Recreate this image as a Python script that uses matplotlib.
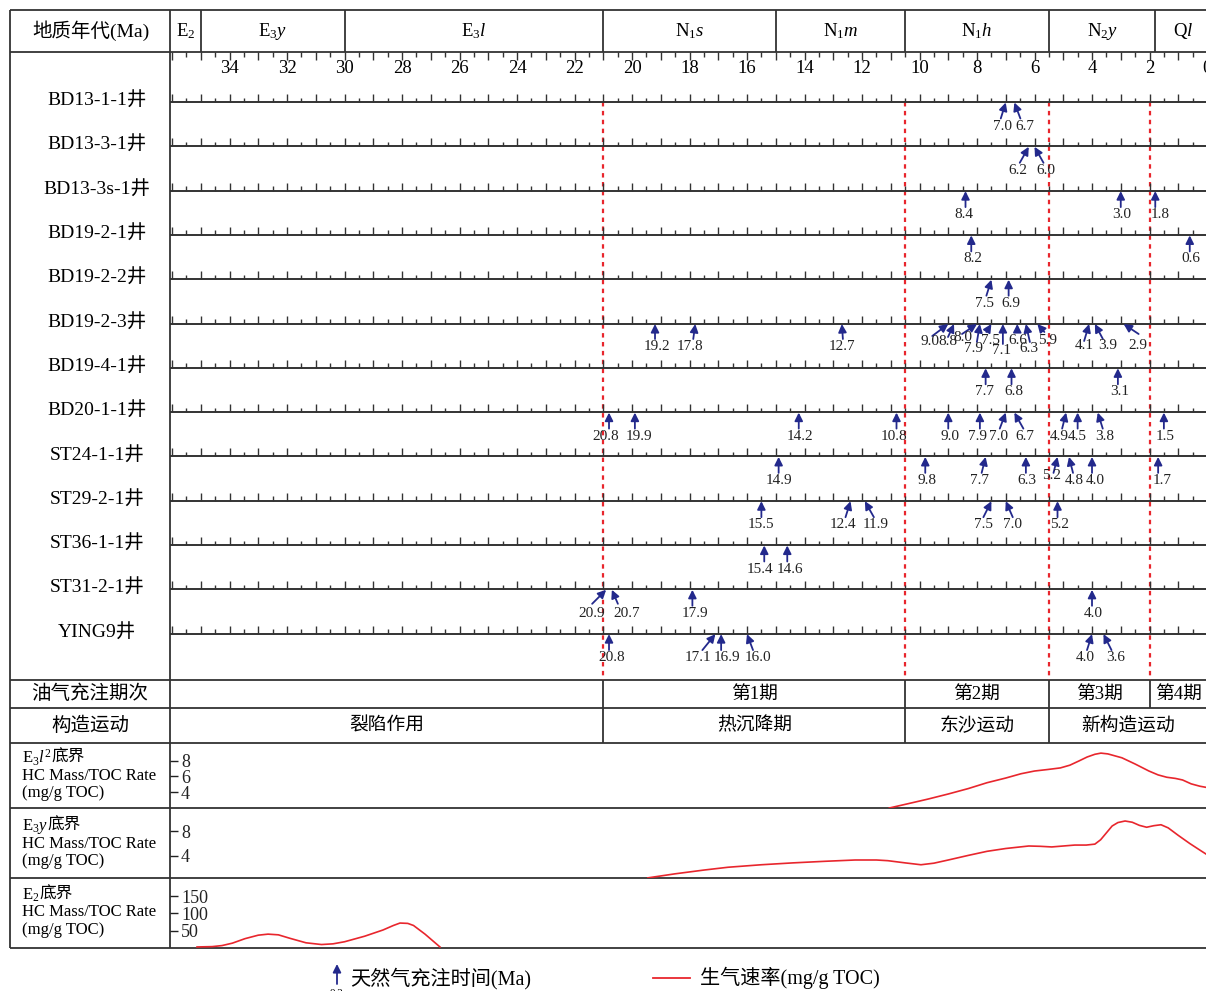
import numpy as np
import matplotlib.pyplot as plt

plt.rcParams['font.family'] = ['Liberation Serif', 'Noto Sans CJK SC']
plt.rcParams['mathtext.fontset'] = 'custom'
plt.rcParams['mathtext.rm'] = 'Liberation Serif'
plt.rcParams['mathtext.it'] = 'Liberation Serif:italic'

# 井名与天然气充注时间 (Ma)
wells = ['BD13-1-1井', 'BD13-3-1井', 'BD13-3s-1井', 'BD19-2-1井', 'BD19-2-2井',
         'BD19-2-3井', 'BD19-4-1井', 'BD20-1-1井', 'ST24-1-1井', 'ST29-2-1井',
         'ST36-1-1井', 'ST31-2-1井', 'YING9井']

charge_ages = [
    [7.0, 6.7],
    [6.2, 6.0],
    [8.4, 3.0, 1.8],
    [8.2, 0.6],
    [7.5, 6.9],
    [19.2, 17.8, 12.7, 9.0, 8.8, 8.0, 7.9, 7.5, 7.1, 6.6, 6.3, 5.9, 4.1, 3.9, 2.9],
    [7.7, 6.8, 3.1],
    [20.8, 19.9, 14.2, 10.8, 9.0, 7.9, 7.0, 6.7, 4.9, 4.5, 3.8, 1.5],
    [14.9, 9.8, 7.7, 6.3, 5.2, 4.8, 4.0, 1.7],
    [15.5, 12.4, 11.9, 7.5, 7.0, 5.2],
    [15.4, 14.6],
    [20.9, 20.7, 17.9, 4.0],
    [20.8, 17.1, 16.9, 16.0, 4.0, 3.6],
]

# 地层
stage_names = [r'$\mathrm{E}_{2}$', r'$\mathrm{E}_{3}\mathit{y}$', r'$\mathrm{E}_{3}\mathit{l}$',
               r'$\mathrm{N}_{1}\mathit{s}$', r'$\mathrm{N}_{1}\mathit{m}$', r'$\mathrm{N}_{1}\mathit{h}$',
               r'$\mathrm{N}_{2}\mathit{y}$', r'$\mathrm{Q}\mathit{l}$']
stage_bounds = [36.07, 35.0, 30.0, 21.0, 15.0, 10.5, 5.5, 1.8, -0.15]

# 充注期次 / 构造运动
period_names = ['第1期', '第2期', '第3期', '第4期']
period_bounds = [21.0, 10.5, 5.5, 2.0, 0.0]
tectonic_names = ['裂陷作用', '热沉降期', '东沙运动', '新构造运动']
tectonic_bounds = [36.07, 21.0, 10.5, 5.5, 0.0]

# 生气速率曲线
e3l2_age = [11.05, 10.4, 9.7, 9.0, 8.3, 7.65, 7.0, 6.47, 6.0, 5.53, 5.1, 4.77, 4.45,
            4.17, 3.9, 3.69, 3.45, 2.96, 2.5, 2.02, 1.7, 1.4, 1.1, 0.85, 0.55, 0.25, 0.03]
e3l2_rate = [1.95, 2.5, 3.1, 3.75, 4.45, 5.2, 5.8, 6.35, 6.7, 6.9, 7.1, 7.45, 8.0,
             8.5, 8.85, 9.0, 8.9, 8.4, 7.6, 6.7, 6.2, 5.9, 5.75, 5.55, 5.05, 4.75, 4.6]

e3y_age = [19.45, 18.5, 17.5, 16.66, 15.5, 14.4, 13.3, 12.24, 11.5, 11.1, 10.5, 9.95,
           9.5, 9.0, 8.3, 7.65, 7.0, 6.2, 5.8, 5.4, 5.0, 4.6, 4.2, 3.9, 3.7, 3.5, 3.3,
           3.1, 2.85, 2.6, 2.35, 2.1, 1.85, 1.6, 1.35, 1.0, 0.6, 0.2, 0.03]
e3y_rate = [0.5, 1.15, 1.75, 2.2, 2.6, 2.9, 3.15, 3.36, 3.36, 3.25, 2.9, 2.6,
            2.85, 3.36, 4.1, 4.75, 5.2, 5.6, 5.55, 5.45, 5.6, 5.75, 5.75, 5.9, 6.6, 7.7, 8.8,
            9.35, 9.6, 9.4, 8.9, 8.6, 8.85, 9.0, 8.5, 7.3, 6.0, 4.8, 4.3]

e2_age = [35.13, 34.6, 34.26, 33.9, 33.46, 33.0, 32.66, 32.3, 31.9, 31.34, 30.8, 30.4,
          30.0, 29.3, 28.66, 28.3, 28.07, 27.8, 27.6, 27.2, 26.68]
e2_rate = [3, 4, 7, 14, 27, 37, 40, 38, 28, 15, 10, 12,
           18, 34, 52, 65, 72, 71, 65, 40, 3]

# 箭头尾部与标注的水平偏移 (像素)
tail_dx = [
    [-5, 6],
    [-9, 9],
    [0, 0, 0],
    [0, 0],
    [-5, 0],
    [0, -2, 1, -16, -6, -15, -3, -5, 0, 0, 4, 7, -5, 8, 15],
    [0, 0, 0],
    [0, 0, 0, 0, 0, 0, -6, 9, -4, 0, 5, 0],
    [0, 0, -4, 0, -4, 4, 0, 0],
    [0, -5, 9, -8, 7, 0],
    [0, 0],
    [-14, 6, 0, 0],
    [0, -13, 0, 6, -5, 8],
]
label_dx = [
    [-3, 10],
    [-11, 11],
    [-2, 1, 5],
    [2, 1],
    [-7, 2],
    [2, -5, 0, -18, -6, -14, -6, -1, -1, 1, 3, 10, -5, 13, 14],
    [-1, 2, 2],
    [-3, 4, 1, -3, 2, -2, -7, 10, -7, 0, 7, 1],
    [0, 2, -6, 1, -6, 5, 3, 4],
    [0, -8, 11, -8, 7, 2],
    [-4, 3],
    [-14, 15, 3, 1],
    [3, -17, 6, 11, -7, 12],
]
# BD19-2-3 井箭头密集, 单独指定竖向偏移
tail_dy_fix = {5: [15, 15, 15, 12, 13, 10, 18, 8, 20, 8, 18, 8, 17, 15, 10],
               11: [14, 14, 16, 16]}
label_dy_fix = {5: [23, 23, 23, 18, 18, 14, 25, 17, 27, 17, 25, 17, 22, 22, 22]}

NAVY = '#23298c'
RED = '#e8262d'
LINE = '#333333'

W, H = 1206, 991
TOP, HEAD, CHG, TEC, P1, P2, P3, BOT = 10, 52, 680, 708, 743, 808, 878, 948
LEFT, COL = 10, 170
ROW0, ROW_STEP = 102, 44.3
AGE_LEFT, AGE_RIGHT = 36.07, 0.035


def box(x0, y0, x1, y1):
    return [x0 / W, 1 - y1 / H, (x1 - x0) / W, (y1 - y0) / H]


fig = plt.figure(figsize=(W / 100, H / 100), dpi=100)

# 表格框线与左侧文字
frame = fig.add_axes([0, 0, 1, 1])
frame.set_xlim(0, W)
frame.set_ylim(H, 0)
frame.axis('off')
frame.hlines([TOP, HEAD, CHG, TEC, P1, P2, P3, BOT], LEFT, W, color=LINE, lw=1.3)
frame.vlines([LEFT, COL], TOP, BOT, color=LINE, lw=1.3)

frame.text(91, 31, '地质年代(Ma)', ha='center', va='center', fontsize=14)
row_y = [ROW0 + ROW_STEP * i for i in range(len(wells))]
for name, y in zip(wells, row_y):
    frame.text(97, y - 1, name, ha='center', va='center', fontsize=14)
frame.text(90, 694, '油气充注期次', ha='center', va='center', fontsize=14)
frame.text(90, 726, '构造运动', ha='center', va='center', fontsize=14)

panel_titles = [r'$\mathrm{E}_{3}\mathit{l}^{2}$', r'$\mathrm{E}_{3}\mathit{y}$', r'$\mathrm{E}_{2}$']
for title, y0 in zip(panel_titles, [758, 826, 895]):
    t = frame.text(22, y0, title, ha='left', va='center', fontsize=12)
    frame.annotate('底界', xy=(1, 0.5), xycoords=t, ha='left', va='center', fontsize=12)
    frame.text(22, y0 + 17.5, 'HC Mass/TOC Rate', ha='left', va='center', fontsize=12)
    frame.text(22, y0 + 35, '(mg/g TOC)', ha='left', va='center', fontsize=12)

# 图例
frame.annotate('', xy=(337, 964), xytext=(337, 984),
               arrowprops=dict(arrowstyle='-|>,head_length=0.6,head_width=0.3', color=NAVY,
                               lw=1.3, shrinkA=0, shrinkB=0, mutation_scale=8))
frame.text(337, 993, '0.2', ha='center', va='center', fontsize=8)
frame.text(350, 979, '天然气充注时间(Ma)', ha='left', va='center', fontsize=14.5)
frame.plot([653, 690], [978, 978], color=RED, lw=1.3)
frame.text(700, 978, '生气速率(mg/g TOC)', ha='left', va='center', fontsize=14.5)

# 时间轴主区
ax = fig.add_axes(box(COL, TOP, W, BOT))
ax.set_xlim(AGE_LEFT, AGE_RIGHT)
ax.set_ylim(BOT, TOP)
ax.axis('off')

ax.vlines(stage_bounds[1:-1], TOP, HEAD, color=LINE, lw=1.3)
for name, a0, a1 in zip(stage_names, stage_bounds[:-1], stage_bounds[1:]):
    ax.text((a0 + a1) / 2, 31, name, ha='center', va='center', fontsize=13.5)

major = np.arange(0, 36.01, 1.0)
minor = np.arange(0.5, 36.01, 1.0)
ax.vlines(major, HEAD, HEAD + 8, color=LINE, lw=1.0)
ax.vlines(minor, HEAD, HEAD + 4.5, color=LINE, lw=1.0)
for a in range(0, 35, 2):
    ax.text(a, 68, str(a), ha='center', va='center', fontsize=13.5)

ax.vlines(period_bounds[:-1], ROW0, CHG, color=RED, lw=1.6, linestyles=(0, (2, 2)))

for i, y in enumerate(row_y):
    ax.hlines(y, AGE_LEFT, AGE_RIGHT, color=LINE, lw=1.4)
    ax.vlines(major, y - 8, y, color=LINE, lw=1.0)
    ax.vlines(minor, y - 4.5, y, color=LINE, lw=1.0)
    ages = charge_ages[i]
    tdy = tail_dy_fix.get(i, [16] * len(ages))
    ldy = label_dy_fix.get(i, [24] * len(ages))
    for j, a in enumerate(ages):
        ly = ldy[j]
        if i == 8 and a == 5.2:
            ly = 19
        ax.annotate('', xy=(a, y + 0.5), xytext=(tail_dx[i][j], -tdy[j]),
                    textcoords='offset pixels',
                    arrowprops=dict(arrowstyle='-|>,head_length=0.6,head_width=0.3',
                                    color=NAVY, lw=1.3, shrinkA=0, shrinkB=0,
                                    mutation_scale=8))
        ax.annotate(f'{a:.1f}', xy=(a, y), xytext=(label_dx[i][j], -ly),
                    textcoords='offset pixels', ha='center', va='center',
                    fontsize=11, color='#222222')

# 充注期次与构造运动
ax.vlines(period_bounds[1:-1] + [period_bounds[0]], CHG, TEC, color=LINE, lw=1.3)
ax.vlines(tectonic_bounds[1:-1], TEC, P1, color=LINE, lw=1.3)
for name, a0, a1 in zip(period_names, period_bounds[:-1], period_bounds[1:]):
    ax.text((a0 + a1) / 2, 694, name, ha='center', va='center', fontsize=13.5)
for name, a0, a1 in zip(tectonic_names, tectonic_bounds[:-1], tectonic_bounds[1:]):
    ax.text((a0 + a1) / 2, 726, name, ha='center', va='center', fontsize=13.5)

# 生气速率
panels = [
    (P1, P2, e3l2_age, e3l2_rate, (1.95, 10.3), [4, 6, 8]),
    (P2, P3, e3y_age, e3y_rate, (0.48, 11.68), [4, 8]),
    (P3, BOT, e2_age, e2_rate, (0, 202), [50, 100, 150]),
]
for top, bot, xs, ys, lim, ticks in panels:
    pax = fig.add_axes(box(COL, top, W, bot))
    pax.set_xlim(AGE_LEFT, AGE_RIGHT)
    pax.set_ylim(*lim)
    pax.plot(xs, ys, color=RED, lw=1.2)
    pax.patch.set_alpha(0)
    for sp in pax.spines.values():
        sp.set_visible(False)
    pax.set_xticks([])
    pax.set_yticks(ticks)
    pax.tick_params(axis='y', direction='in', length=6, width=1.0, pad=-8,
                    labelsize=13, colors='#222222')
    for lbl in pax.get_yticklabels():
        lbl.set_horizontalalignment('left')

fig.savefig('out.png', dpi=100)
